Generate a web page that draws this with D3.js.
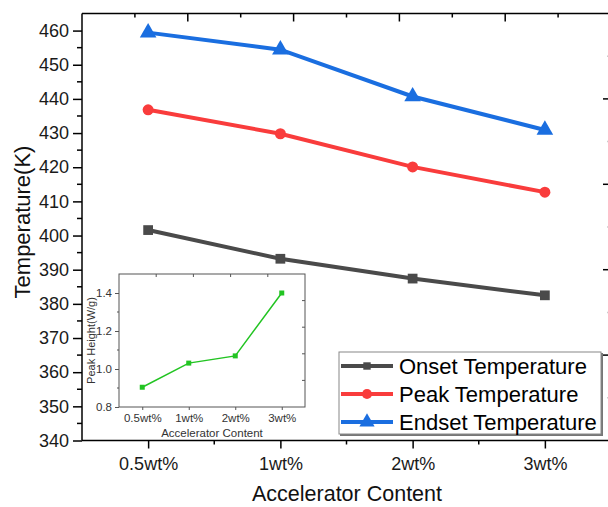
<!DOCTYPE html>
<html><head><meta charset="utf-8">
<script src="https://cdn.jsdelivr.net/npm/d3@7"></script>
<style>body{margin:0;background:#fff}svg{display:block;font-family:"Liberation Sans",Arial,sans-serif}</style>
</head><body><svg id="c" width="608" height="507"></svg>
<script>
const categories = ["0.5wt%","1wt%","2wt%","3wt%"];
const onset = [401.6, 393.2, 387.4, 382.5];
const peak = [436.8, 429.8, 420.1, 412.7];
const endset = [459.4, 454.4, 440.7, 430.9];
const seriesNames = ["Onset Temperature","Peak Temperature","Endset Temperature"];
const yTicks = [340,350,360,370,380,390,400,410,420,430,440,450,460];
const insetValues = [0.904, 1.031, 1.069, 1.400];
const insetYTicks = [0.8,1.0,1.2,1.4];

const svg = d3.select("#c");
const L=82, R=611, T=13.5, B=440.5;
const x = d3.scalePoint().domain(categories).range([L,R]).padding(0.5);
const y = d3.scaleLinear().domain([340,465]).range([B,T]);
const twinX = d3.scaleLinear().domain([0,5]).range([L,R]);
const twinY = d3.scaleLinear().domain([0,5]).range([B,T]);

const colors = ["#4a4a4a","#f93c3c","#1a6ee0"];
const data = [onset, peak, endset];
const symbols = [d3.symbolSquare, d3.symbolCircle, d3.symbolTriangle];
const symSizes = [95, 95, 120];

// axes
const ax = svg.append("g");
const minorY = d3.range(345, 465, 10);
const mids = d3.range(categories.length-1).map(i => (x(categories[i])+x(categories[i+1]))/2);
// left axis
const gl = ax.append("g").attr("transform",`translate(${L},0)`)
  .call(d3.axisLeft(y).tickValues(yTicks).tickSize(9).tickPadding(4).tickFormat(d3.format("d")));
gl.selectAll("text").attr("font-size",18).attr("fill","#1a1a1a");
gl.selectAll("line,path").attr("stroke","#000").attr("stroke-width",1.5);
gl.select(".domain").attr("d",`M0,${T}V${B}`);
ax.append("g").selectAll("line").data(minorY).join("line")
  .attr("x1",L-5).attr("x2",L).attr("y1",d=>y(d)).attr("y2",d=>y(d)).attr("stroke","#000").attr("stroke-width",1.5);
// bottom axis
const gb = ax.append("g").attr("transform",`translate(0,${B})`)
  .call(d3.axisBottom(x).tickSize(8).tickPadding(9));
gb.selectAll("text").attr("font-size",18).attr("fill","#1a1a1a");
gb.selectAll("line,path").attr("stroke","#000").attr("stroke-width",1.5);
gb.select(".domain").attr("d",`M${L},0H${R}`);
ax.append("g").selectAll("line").data(mids).join("line")
  .attr("x1",d=>d).attr("x2",d=>d).attr("y1",B).attr("y2",B+4).attr("stroke","#000").attr("stroke-width",1.5);
// top axis
ax.append("line").attr("x1",L).attr("x2",R).attr("y1",T).attr("y2",T).attr("stroke","#000").attr("stroke-width",1.5);
ax.append("g").selectAll("line").data(d3.range(0.5,5,0.5)).join("line")
  .attr("x1",d=>twinX(d)).attr("x2",d=>twinX(d)).attr("y1",T).attr("y2",d=>T+(d%1===0?8:4))
  .attr("stroke","#000").attr("stroke-width",1.5);
// right axis ticks
ax.append("g").selectAll("line").data(d3.range(0.5,5,0.5)).join("line")
  .attr("y1",d=>twinY(d)).attr("y2",d=>twinY(d)).attr("x1",R).attr("x2",d=>R-(d%1===0?8:4))
  .attr("stroke",d=>d%1===0?"#000":"#ccc").attr("stroke-width",1.5);

// titles
svg.append("text").attr("x",347).attr("y",501).attr("text-anchor","middle").attr("font-size",21.5).attr("fill","#111").text("Accelerator Content");
svg.append("text").attr("transform","translate(30,222) rotate(-90)").attr("text-anchor","middle").attr("font-size",22).attr("fill","#111").text("Temperature(K)");

// series
const line = d3.line().x((d,i)=>x(categories[i])).y(d=>y(d));
data.forEach((s,k)=>{
  svg.append("path").datum(s).attr("d",line).attr("fill","none").attr("stroke",colors[k]).attr("stroke-width",4);
  svg.append("g").selectAll("path").data(s).join("path")
    .attr("transform",(d,i)=>`translate(${x(categories[i])},${y(d)})`)
    .attr("d",d3.symbol().type(symbols[k]).size(symSizes[k])).attr("fill",colors[k]);
});

// inset
const iL=119, iR=305, iT=274, iB=407;
const ix = d3.scalePoint().domain(categories).range([iL,iR]).padding(0.5);
const iy = d3.scaleLinear().domain([0.8,1.5]).range([iB,iT]);
const itx = d3.scaleLinear().domain([0,5]).range([iL,iR]);
const ity = d3.scaleLinear().domain([0,5]).range([iB,iT]);
const ins = svg.append("g");
ins.append("rect").attr("x",iL).attr("y",iT).attr("width",iR-iL).attr("height",iB-iT).attr("fill","#fff").attr("stroke","#555").attr("stroke-width",1);
const igl = ins.append("g").attr("transform",`translate(${iL},0)`)
  .call(d3.axisLeft(iy).tickValues(insetYTicks).tickSize(4).tickPadding(3).tickFormat(d3.format(".1f")));
igl.select(".domain").remove();
igl.selectAll("line").attr("stroke","#555");
igl.selectAll("text").attr("font-size",11.5).attr("fill","#333").attr("font-family","Liberation Sans, Arial");
ins.append("g").selectAll("line").data([0.9,1.1,1.3]).join("line")
  .attr("x1",iL-2).attr("x2",iL).attr("y1",d=>iy(d)).attr("y2",d=>iy(d)).attr("stroke","#555");
const igb = ins.append("g").attr("transform",`translate(0,${iB})`)
  .call(d3.axisBottom(ix).tickSize(3).tickPadding(4));
igb.select(".domain").remove();
igb.selectAll("line").attr("stroke","#555");
igb.selectAll("text").attr("font-size",11.5).attr("fill","#333").attr("font-family","Liberation Sans, Arial");
ins.append("g").selectAll("line").data(d3.range(1,5)).join("line")
  .attr("x1",d=>itx(d)).attr("x2",d=>itx(d)).attr("y1",iT).attr("y2",iT+3).attr("stroke","#555");
ins.append("g").selectAll("line").data(d3.range(1,5)).join("line")
  .attr("y1",d=>ity(d)).attr("y2",d=>ity(d)).attr("x1",iR).attr("x2",iR-3).attr("stroke","#555");
ins.append("text").attr("x",(iL+iR)/2).attr("y",437).attr("text-anchor","middle").attr("font-size",11.5).attr("fill","#333").text("Accelerator Content");
ins.append("text").attr("transform",`translate(95,${(iT+iB)/2}) rotate(-90)`).attr("text-anchor","middle").attr("font-size",11).attr("fill","#333").text("Peak Height(W/g)");
const iline = d3.line().x((d,i)=>ix(categories[i])).y(d=>iy(d));
ins.append("path").datum(insetValues).attr("d",iline).attr("fill","none").attr("stroke","#22c422").attr("stroke-width",1.5);
ins.append("g").selectAll("rect").data(insetValues).join("rect")
  .attr("x",(d,i)=>ix(categories[i])-2.5).attr("y",d=>iy(d)-2.5).attr("width",5).attr("height",5).attr("fill","#22c422");

// legend
const lg = svg.append("g");
lg.append("rect").attr("x",340).attr("y",353).attr("width",263).attr("height",83).attr("fill","#777");
lg.append("rect").attr("x",339).attr("y",352).attr("width",262).attr("height",82).attr("fill","#fff").attr("stroke","#888").attr("stroke-width",1);
const legSizes = [55, 80, 100];
seriesNames.forEach((n,k)=>{
  const ly = 366 + k*28;
  lg.append("line").attr("x1",341).attr("x2",393).attr("y1",ly).attr("y2",ly).attr("stroke",colors[k]).attr("stroke-width",4);
  lg.append("path").attr("transform",`translate(367,${ly})`).attr("d",d3.symbol().type(symbols[k]).size(legSizes[k])).attr("fill",colors[k]);
  lg.append("text").attr("x",399).attr("y",ly+8).attr("font-size",22).attr("fill","#000").text(n);
});
</script></body></html>
